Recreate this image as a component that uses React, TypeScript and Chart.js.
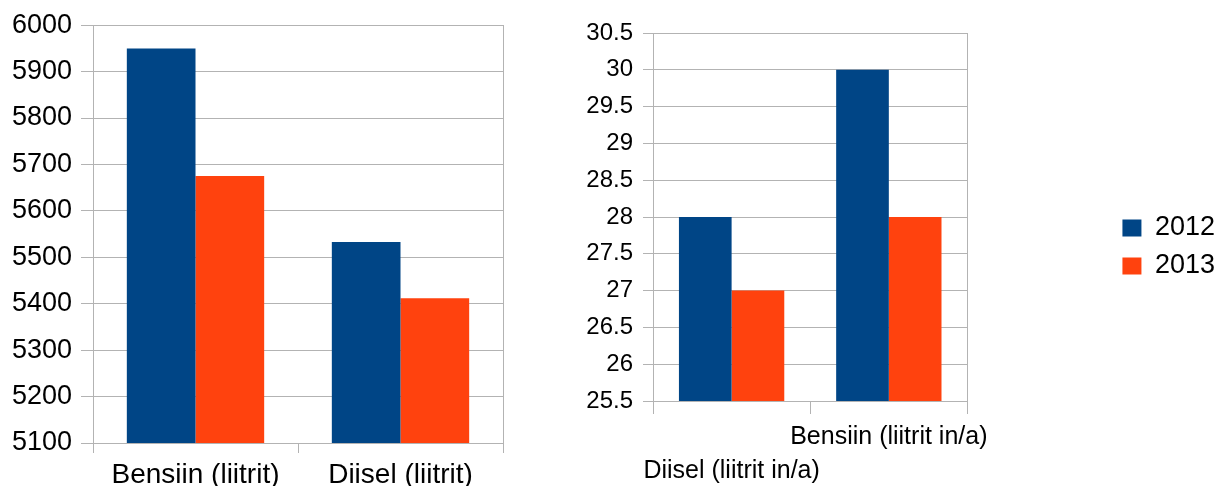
import React, { useEffect, useRef } from "react";
import { Chart, registerables } from "chart.js";

Chart.register(...registerables);

const seriesNames = ["2012", "2013"];
const seriesColors = ["#004586", "#ff420e"];

const leftCategories = ["Bensiin (liitrit)", "Diisel (liitrit)"];
const left2012 = [5950, 5533];
const left2013 = [5675, 5412];
const leftMin = 5100;
const leftMax = 6000;
const leftStep = 100;

const rightCategories = ["Diisel (liitrit in/a)", "Bensiin (liitrit in/a)"];
const right2012 = [28, 30];
const right2013 = [27, 28];
const rightMin = 25.5;
const rightMax = 30.5;
const rightStep = 0.5;

const FONT = "'Liberation Sans', Arial, sans-serif";
const GRID = "#b3b3b3";

function makeLeft(canvas: HTMLCanvasElement) {
  return new Chart(canvas, {
    type: "bar",
    data: {
      labels: leftCategories,
      datasets: [
        { label: seriesNames[0], data: left2012, backgroundColor: seriesColors[0] },
        { label: seriesNames[1], data: left2013, backgroundColor: seriesColors[1] },
      ],
    },
    options: {
      animation: false,
      responsive: true,
      maintainAspectRatio: false,
      layout: { padding: { top: 25, left: 0, right: 0, bottom: 0 } },
      datasets: { bar: { categoryPercentage: 0.67, barPercentage: 1 } },
      plugins: { legend: { display: false }, tooltip: { enabled: false } },
      scales: {
        x: {
          grid: { drawOnChartArea: false, tickLength: 10, offset: true, color: GRID },
          border: { display: true, color: GRID },
          ticks: { color: "#000", font: { family: FONT, size: 28 }, padding: 5 },
          afterFit: (s: any) => { s.height = 43; },
        },
        y: {
          min: leftMin,
          max: leftMax,
          ticks: {
            stepSize: leftStep,
            color: "#000",
            font: { family: FONT, size: 27 },
            padding: 9,
            callback: (v: any) => String(v),
          },
          grid: { color: GRID, tickLength: 12 },
          border: { display: true, color: GRID },
          afterFit: (s: any) => { s.width = 93; },
        },
        y2: {
          position: "right",
          display: true,
          ticks: { display: false },
          grid: { drawOnChartArea: false, drawTicks: false },
          border: { display: true, color: GRID },
          afterFit: (s: any) => { s.width = 37; },
        },
      },
    },
  } as any);
}

function makeRight(canvas: HTMLCanvasElement) {
  return new Chart(canvas, {
    type: "bar",
    data: {
      labels: rightCategories,
      datasets: [
        { label: seriesNames[0], data: right2012, backgroundColor: seriesColors[0] },
        { label: seriesNames[1], data: right2013, backgroundColor: seriesColors[1] },
      ],
    },
    options: {
      animation: false,
      responsive: true,
      maintainAspectRatio: false,
      layout: { padding: { top: 8, left: 0, right: -8, bottom: 0 } },
      datasets: { bar: { categoryPercentage: 0.67, barPercentage: 1 } },
      plugins: {
        tooltip: { enabled: false },
        title: {
          display: true,
          text: " ",
          font: { size: 1, lineHeight: 1 },
          padding: { top: 0, bottom: 24 },
        },
        legend: {
          position: "right",
          labels: {
            boxWidth: 19,
            boxHeight: 17,
            padding: 11,
            color: "#000",
            font: { family: FONT, size: 27 },
          },
        },
      },
      scales: {
        x: {
          grid: { drawOnChartArea: false, tickLength: 13, offset: true, color: GRID },
          border: { display: true, color: GRID },
          ticks: {
            color: "#000",
            font: { family: FONT, size: 25, lineHeight: 1.36 },
            padding: 6,
            maxRotation: 0,
            autoSkip: false,
            callback: function (this: any, v: any, i: number) {
              const lab = this.getLabelForValue(v);
              return i % 2 === 0 ? ["", lab] : lab;
            },
          },
          afterFit: (s: any) => { s.height = 85; },
        },
        y: {
          min: rightMin,
          max: rightMax,
          ticks: {
            stepSize: rightStep,
            color: "#000",
            font: { family: FONT, size: 24 },
            padding: 10,
            callback: (v: any) => String(v),
          },
          grid: { color: GRID, tickLength: 10 },
          border: { display: true, color: GRID },
          afterFit: (s: any) => { s.width = 113; },
        },
        y2: {
          position: "right",
          display: true,
          ticks: { display: false },
          grid: { drawOnChartArea: false, drawTicks: false },
          border: { display: true, color: GRID },
          afterFit: (s: any) => { s.width = 144; },
        },
      },
    },
  } as any);
}

export default function App() {
  const leftRef = useRef<HTMLCanvasElement | null>(null);
  const rightRef = useRef<HTMLCanvasElement | null>(null);
  useEffect(() => {
    const a = makeLeft(leftRef.current!);
    const b = makeRight(rightRef.current!);
    return () => {
      a.destroy();
      b.destroy();
    };
  }, []);
  return (
    <div style={{ position: "fixed", left: 0, top: 0, width: 1217, height: 486, background: "#fff", overflow: "hidden" }}>
      <div style={{ position: "absolute", left: 0, top: 0, width: 540, height: 486 }}>
        <canvas ref={leftRef} />
      </div>
      <div style={{ position: "absolute", left: 540, top: 0, width: 677, height: 486 }}>
        <canvas ref={rightRef} />
      </div>
    </div>
  );
}
